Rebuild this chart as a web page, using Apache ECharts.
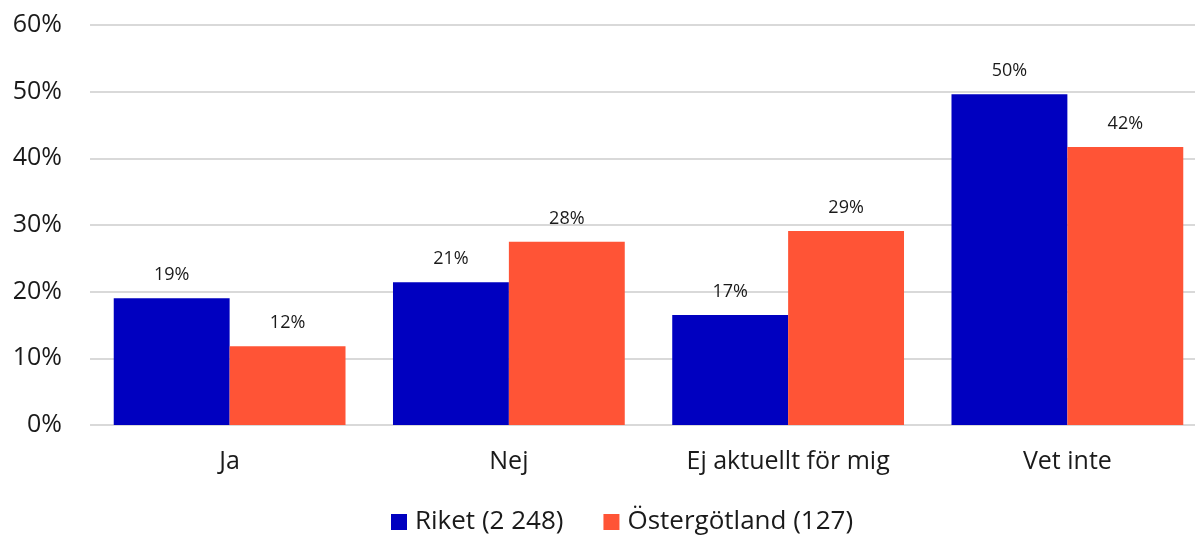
<!DOCTYPE html>
<html>
<head>
<meta charset="utf-8">
<script src="https://cdn.jsdelivr.net/npm/echarts@6/dist/echarts.min.js"></script>
<style>
  html, body { margin: 0; padding: 0; background: #fff; }
  #chart { width: 1195px; height: 535px; }
</style>
</head>
<body>
<div id="chart"></div>
<script>
// kategorier och värden (procent)
var categories = ['Ja', 'Nej', 'Ej aktuellt för mig', 'Vet inte'];
var riket = [19.0, 21.4, 16.5, 49.6];
var ostergotland = [11.8, 27.5, 29.1, 41.7];
var seriesNames = ['Riket (2 248)', 'Östergötland (127)'];

var font = '"Open Sans", "Noto Sans", sans-serif';

var myChart = echarts.init(document.getElementById('chart'), null, {renderer: 'canvas'});

function barSeries(name, data, color) {
  return {
    name: name,
    type: 'bar',
    data: data,
    barGap: '0%',
    barCategoryGap: '17%',
    itemStyle: { color: color },
    label: {
      show: true,
      position: 'top',
      distance: 14,
      color: '#1a1a1a',
      fontFamily: font,
      fontSize: 18,
      formatter: function (p) { return Math.round(p.value) + '%'; }
    }
  };
}

myChart.setOption({
  animation: false,
  // grid går lite utanför högerkanten, som i originalet
  grid: { left: 90, width: 1117, top: 25, bottom: 110, outerBoundsMode: 'none' },
  legend: {
    left: 391,
    top: 509,
    padding: 0,
    itemWidth: 16,
    itemHeight: 16,
    itemGap: 40,
    icon: 'rect',
    textStyle: { fontFamily: font, fontSize: 26, color: '#1a1a1a', padding: [0, 0, 0, 3] },
    data: seriesNames
  },
  xAxis: {
    type: 'category',
    data: categories,
    axisLine: { show: false },
    axisTick: { show: false },
    axisLabel: { fontFamily: font, fontSize: 25, color: '#1a1a1a', margin: 24 }
  },
  yAxis: {
    type: 'value',
    min: 0,
    max: 60,
    interval: 10,
    axisLabel: { fontFamily: font, fontSize: 25, color: '#1a1a1a', margin: 28,
      formatter: '{value}%' },
    splitLine: { lineStyle: { color: '#d9d9d9', width: 2 } }
  },
  series: [
    barSeries(seriesNames[0], riket, '#0000c0'),
    barSeries(seriesNames[1], ostergotland, '#ff5436')
  ]
});
</script>
</body>
</html>
